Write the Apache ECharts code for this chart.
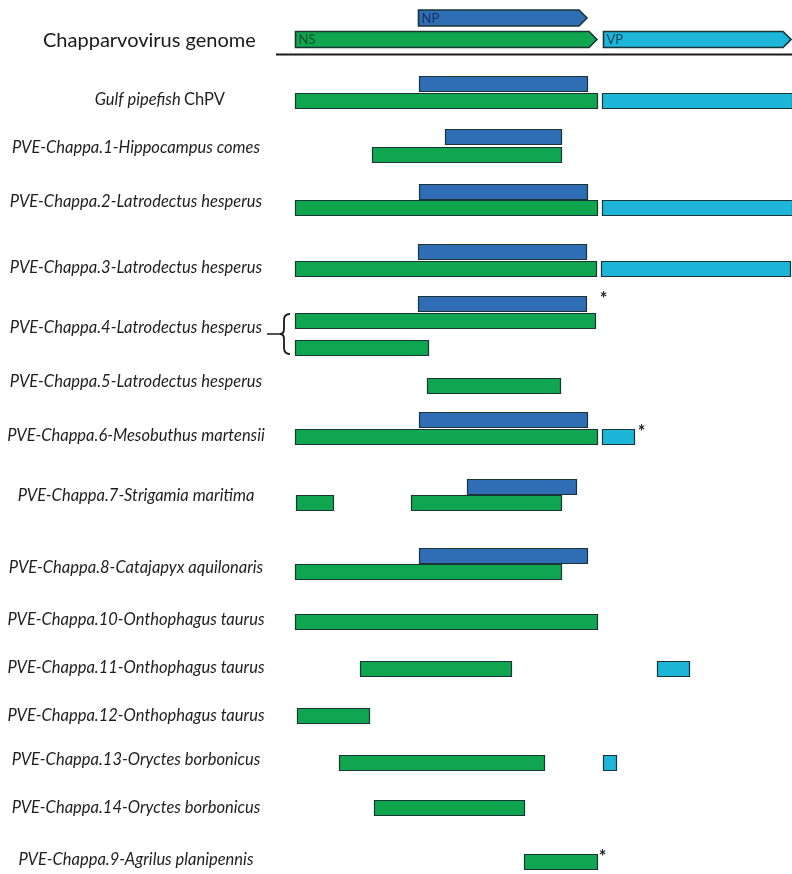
<!DOCTYPE html>
<html>
<head>
<meta charset="utf-8">
<script src="https://cdn.jsdelivr.net/npm/echarts@6/dist/echarts.min.js"></script>
<style>
  html, body { margin: 0; padding: 0; background: #ffffff; }
  #main { width: 792px; height: 874px; }
</style>
</head>
<body>
<div id="main"></div>
<script>
// Genome positions are in plot units: NS start = 0, VP end = 497.
const genomeLength = 497;

// Track labels and the vertical centre of each label (track units, top = 0).
const rowLabels = [
  'Gulf pipefish ChPV',
  'PVE-Chappa.1-Hippocampus comes',
  'PVE-Chappa.2-Latrodectus hesperus',
  'PVE-Chappa.3-Latrodectus hesperus',
  'PVE-Chappa.4-Latrodectus hesperus',
  'PVE-Chappa.5-Latrodectus hesperus',
  'PVE-Chappa.6-Mesobuthus martensii',
  'PVE-Chappa.7-Strigamia maritima',
  'PVE-Chappa.8-Catajapyx aquilonaris',
  'PVE-Chappa.10-Onthophagus taurus',
  'PVE-Chappa.11-Onthophagus taurus',
  'PVE-Chappa.12-Onthophagus taurus',
  'PVE-Chappa.13-Oryctes borbonicus',
  'PVE-Chappa.14-Oryctes borbonicus',
  'PVE-Chappa.9-Agrilus planipennis'
];
const rowCenters = [100, 148, 202, 268, 328, 382, 436, 496, 568, 620, 668, 716, 760, 808, 860];

// Reference genome ORFs: [name, start, end, track]
const genomeOrfs = [
  ['NP', 123, 292, 18],
  ['NS', 0, 302, 39.5],
  ['VP', 308, 496, 39.5]
];

// Matching regions: [start, end, track, gap before the truncation mark (0 = unmarked)]
const nsHits = [
  [0, 302, 100.5, 0],
  [77, 266, 154, 0],
  [0, 302, 207, 0],
  [0, 301, 268.5, 0],
  [0, 300, 320, 0],
  [0, 133, 347, 0],
  [132, 265, 385, 0],
  [0, 302, 436.5, 0],
  [1, 38, 502.5, 0],
  [116, 266, 502.5, 0],
  [0, 266, 571, 0],
  [0, 302, 621.5, 0],
  [65, 216, 668, 0],
  [2, 74, 715.5, 0],
  [44, 249, 762, 0],
  [79, 229, 807.5, 0],
  [229, 302, 861, 5]
];
const npHits = [
  [124, 292, 83.5, 0],
  [150, 266, 136, 0],
  [124, 292, 191, 0],
  [123, 291, 251.5, 0],
  [123, 291, 303, 17],
  [124, 292, 419.5, 0],
  [172, 281, 486, 0],
  [124, 292, 555.5, 0]
];
const vpHits = [
  [307, 497, 100.5, 0],
  [307, 497, 207, 0],
  [306, 495, 268.5, 0],
  [307, 339, 436.5, 7],
  [362, 394, 668, 0],
  [308, 321, 762, 0]
];

// Tracks joined by a brace (PVE-Chappa.4 has two NS fragments): [top, bottom]
const braces = [[314, 354]];

// Separator under the reference genome: [start, end, track]
const ruleLine = [[-19, 497, 54.5]];

const COLORS = { NS: '#10a64f', NP: '#2f6db5', VP: '#1db5d8' };
const ORF_TEXT = { NS: '#0d4a2c', NP: '#15305e', VP: '#0c4656' };
const STROKE = '#1b3436';
const BAR_H = 15;
const ORF_H = 16;
const LABEL_CENTER_X = 136;
const LABEL_FONT = 'Lato, "Open Sans", sans-serif';
const LABEL_SIZE = 16.5;

const chart = echarts.init(document.getElementById('main'), null, { renderer: 'canvas' });

function hitRenderer(color) {
  return function (params, api) {
    const s = api.coord([api.value(0), api.value(2)]);
    const e = api.coord([api.value(1), api.value(2)]);
    const x = Math.round(s[0]) + 0.5;
    const w = Math.round(e[0]) - Math.round(s[0]);
    const y = Math.round(s[1] - BAR_H / 2) + 0.5;
    const children = [{
      type: 'rect',
      shape: { x: x, y: y, width: w, height: BAR_H },
      style: { fill: color, stroke: STROKE, lineWidth: 1.2 }
    }];
    const gap = api.value(3);
    if (gap > 0) {
      children.push({
        type: 'text',
        style: {
          x: x + w + gap, y: y + 3, text: '*',
          fill: '#222', font: 'bold 18px ' + LABEL_FONT,
          align: 'center', verticalAlign: 'middle'
        }
      });
    }
    return { type: 'group', children: children };
  };
}

function orfRenderer(params, api) {
  const name = genomeOrfs[params.dataIndex][0];
  const s = api.coord([api.value(1), api.value(3)]);
  const e = api.coord([api.value(2), api.value(3)]);
  const x0 = Math.round(s[0]) + 0.5, x1 = Math.round(e[0]);
  const yc = s[1];
  const y0 = yc - ORF_H / 2, y1 = yc + ORF_H / 2;
  const tip = 8;
  return {
    type: 'group',
    children: [{
      type: 'polygon',
      shape: { points: [[x0, y0], [x1 - tip, y0], [x1, yc], [x1 - tip, y1], [x0, y1]] },
      style: { fill: COLORS[name], stroke: STROKE, lineWidth: 1.6 }
    }, {
      type: 'text',
      style: {
        x: x0 + 3, y: yc + 0.5, text: name, fill: ORF_TEXT[name],
        font: '13px ' + LABEL_FONT, verticalAlign: 'middle'
      }
    }]
  };
}

function ruleRenderer(params, api) {
  const s = api.coord([api.value(0), api.value(2)]);
  const e = api.coord([api.value(1), api.value(2)]);
  return {
    type: 'line',
    shape: { x1: s[0], y1: s[1], x2: e[0], y2: e[1] },
    style: { stroke: '#1a1a1a', lineWidth: 2.2 }
  };
}

function braceRenderer(params, api) {
  const top = api.coord([0, api.value(0)]);
  const bot = api.coord([0, api.value(1)]);
  const xr = top[0] - 5;     // open end of the brace, just left of the bars
  const xs = xr - 6;         // spine
  const xt = xs - 4;         // point
  const y0 = top[1], y1 = bot[1], ym = (y0 + y1) / 2;
  const path = 'M' + xr + ' ' + y0 +
    ' Q' + xs + ' ' + y0 + ' ' + xs + ' ' + (y0 + 6) +
    ' L' + xs + ' ' + (ym - 5) +
    ' Q' + xs + ' ' + ym + ' ' + xt + ' ' + ym +
    ' Q' + xs + ' ' + ym + ' ' + xs + ' ' + (ym + 5) +
    ' L' + xs + ' ' + (y1 - 6) +
    ' Q' + xs + ' ' + y1 + ' ' + xr + ' ' + y1;
  return {
    type: 'group',
    children: [{
      type: 'path', shape: { pathData: path },
      style: { fill: null, stroke: '#1a1a1a', lineWidth: 1.8 }
    }, {
      type: 'line', shape: { x1: xt - 13, y1: ym, x2: xt, y2: ym },
      style: { stroke: '#1a1a1a', lineWidth: 1.5 }
    }]
  };
}

function labelRenderer(params, api) {
  const idx = api.value(0);
  const y = api.coord([0, api.value(1)])[1];
  const text = rowLabels[idx];
  let style;
  if (text.indexOf('PVE') === 0) {
    style = {
      x: LABEL_CENTER_X, y: y, text: text, fill: '#1e1e1e',
      font: 'italic ' + LABEL_SIZE + 'px ' + LABEL_FONT, align: 'center', verticalAlign: 'middle'
    };
  } else {
    // Virus name: species in italics, abbreviation upright
    const parts = text.split(' ');
    const abbr = parts.pop();
    style = {
      x: 225, y: y, fill: '#1e1e1e', align: 'right', verticalAlign: 'middle',
      text: '{i|' + parts.join(' ') + '} {n|' + abbr + '}',
      rich: {
        i: { font: 'italic ' + LABEL_SIZE + 'px ' + LABEL_FONT, fill: '#1e1e1e' },
        n: { font: LABEL_SIZE + 'px ' + LABEL_FONT, fill: '#1e1e1e' }
      }
    };
  }
  return { type: 'text', style: style };
}

const option = {
  animation: false,
  backgroundColor: '#ffffff',
  grid: { left: 295, right: 0, top: 0, bottom: 0 },
  xAxis: { type: 'value', min: 0, max: genomeLength, show: false },
  yAxis: { type: 'value', min: 0, max: 874, inverse: true, show: false },
  graphic: [{
    type: 'text', left: 43, top: 31,
    style: { text: 'Chapparvovirus genome', fill: '#1a1a1a', font: '20px ' + LABEL_FONT }
  }],
  series: [
    { type: 'custom', name: 'rule', renderItem: ruleRenderer, data: ruleLine, clip: false, silent: true },
    { type: 'custom', name: 'genome', renderItem: orfRenderer, data: genomeOrfs, clip: false, silent: true },
    { type: 'custom', name: 'NS', renderItem: hitRenderer(COLORS.NS), data: nsHits, clip: false, silent: true },
    { type: 'custom', name: 'NP', renderItem: hitRenderer(COLORS.NP), data: npHits, clip: false, silent: true },
    { type: 'custom', name: 'VP', renderItem: hitRenderer(COLORS.VP), data: vpHits, clip: false, silent: true },
    { type: 'custom', name: 'brace', renderItem: braceRenderer, data: braces, clip: false, silent: true },
    {
      type: 'custom', name: 'labels', renderItem: labelRenderer, clip: false, silent: true,
      data: rowLabels.map(function (l, i) { return [i, rowCenters[i]]; })
    }
  ]
};

chart.setOption(option);
</script>
</body>
</html>
